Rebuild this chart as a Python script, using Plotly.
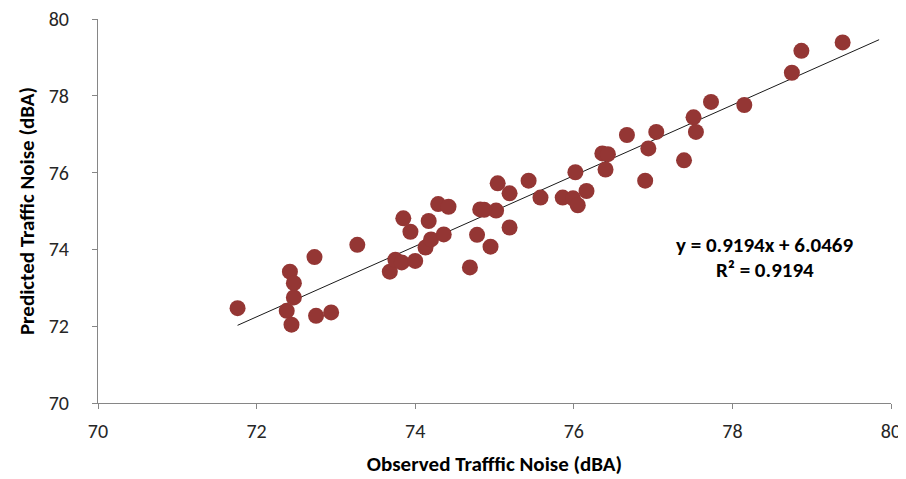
import plotly.graph_objects as go

observed = [71.76, 72.42, 72.47, 72.47, 72.38, 72.44, 72.73, 72.75, 72.94, 73.27,
            73.68, 73.75, 73.83, 74.00, 73.85, 73.94, 74.13, 74.17, 74.20, 74.36,
            74.29, 74.42, 74.69, 74.78, 74.82, 74.95, 75.02, 75.04, 75.19, 75.19,
            75.43, 75.58, 75.86, 75.99, 76.05, 76.02, 76.16, 76.36, 76.43, 76.40,
            76.67, 76.90, 76.94, 77.04, 77.39, 77.51, 77.54, 77.73, 78.15, 78.75,
            78.87, 79.39, 74.87]
predicted = [72.47, 73.42, 73.12, 72.75, 72.40, 72.04, 73.80, 72.27, 72.36, 74.12,
             73.42, 73.73, 73.66, 73.70, 74.81, 74.46, 74.05, 74.74, 74.26, 74.39,
             75.18, 75.11, 73.53, 74.38, 75.04, 74.07, 75.01, 75.72, 75.46, 74.57,
             75.79, 75.35, 75.35, 75.33, 75.15, 76.01, 75.52, 76.50, 76.48, 76.08,
             76.98, 75.79, 76.63, 77.06, 76.32, 77.44, 77.06, 77.84, 77.76, 78.60,
             79.17, 79.39, 75.03]

slope = 0.9194
intercept = 6.0469
r2 = 0.9194
trend_x = [71.76, 79.85]
trend_y = [slope * v + intercept for v in trend_x]

x_title = "Observed Trafffic Noise (dBA)"
y_title = "Predicted Traffic Noise (dBA)"
eq_line1 = "y = 0.9194x + 6.0469"
eq_line2 = "R² = 0.9194"

font_family = "Carlito, Lato, 'Open Sans', sans-serif"

fig = go.Figure()
fig.add_trace(go.Scatter(
    x=trend_x, y=trend_y, mode="lines",
    line=dict(color="#1a1a1a", width=1), showlegend=False, hoverinfo="skip"))
fig.add_trace(go.Scatter(
    x=observed, y=predicted, mode="markers",
    marker=dict(color="#943634", size=16, line=dict(width=0)),
    showlegend=False))

for txt, ypos in [(eq_line1, 0.4116), (eq_line2, 0.3467)]:
    fig.add_annotation(
        x=0.841, y=ypos, xref="paper", yref="paper", text="<b>" + txt + "</b>",
        showarrow=False, align="center", xanchor="center", yanchor="middle",
        font=dict(family=font_family, size=21, color="#000000"))

axis_common = dict(
    range=[70, 80], dtick=2, showline=True, linecolor="#868686", linewidth=1,
    ticks="outside", ticklen=5, tickcolor="#868686", showgrid=False,
    zeroline=False, automargin=False, ticklabeloverflow="allow",
    tickfont=dict(family=font_family, size=20, color="#262626"))

# page body has an 8px default margin, so the figure is sized to fit the window
fig.update_layout(
    width=898, height=471,
    margin=dict(l=90, r=15, t=11, b=76),
    paper_bgcolor="white", plot_bgcolor="white",
    xaxis=dict(**axis_common, ticklabelstandoff=5,
               title=dict(text="<b>" + x_title + "</b>", standoff=14,
                          font=dict(family=font_family, size=21, color="#000000"))),
    yaxis=dict(**axis_common, ticklabelstandoff=19,
               title=dict(text="<b>" + y_title + "</b>", standoff=8,
                          font=dict(family=font_family, size=21, color="#000000"))),
)

fig.write_html("out.html")
